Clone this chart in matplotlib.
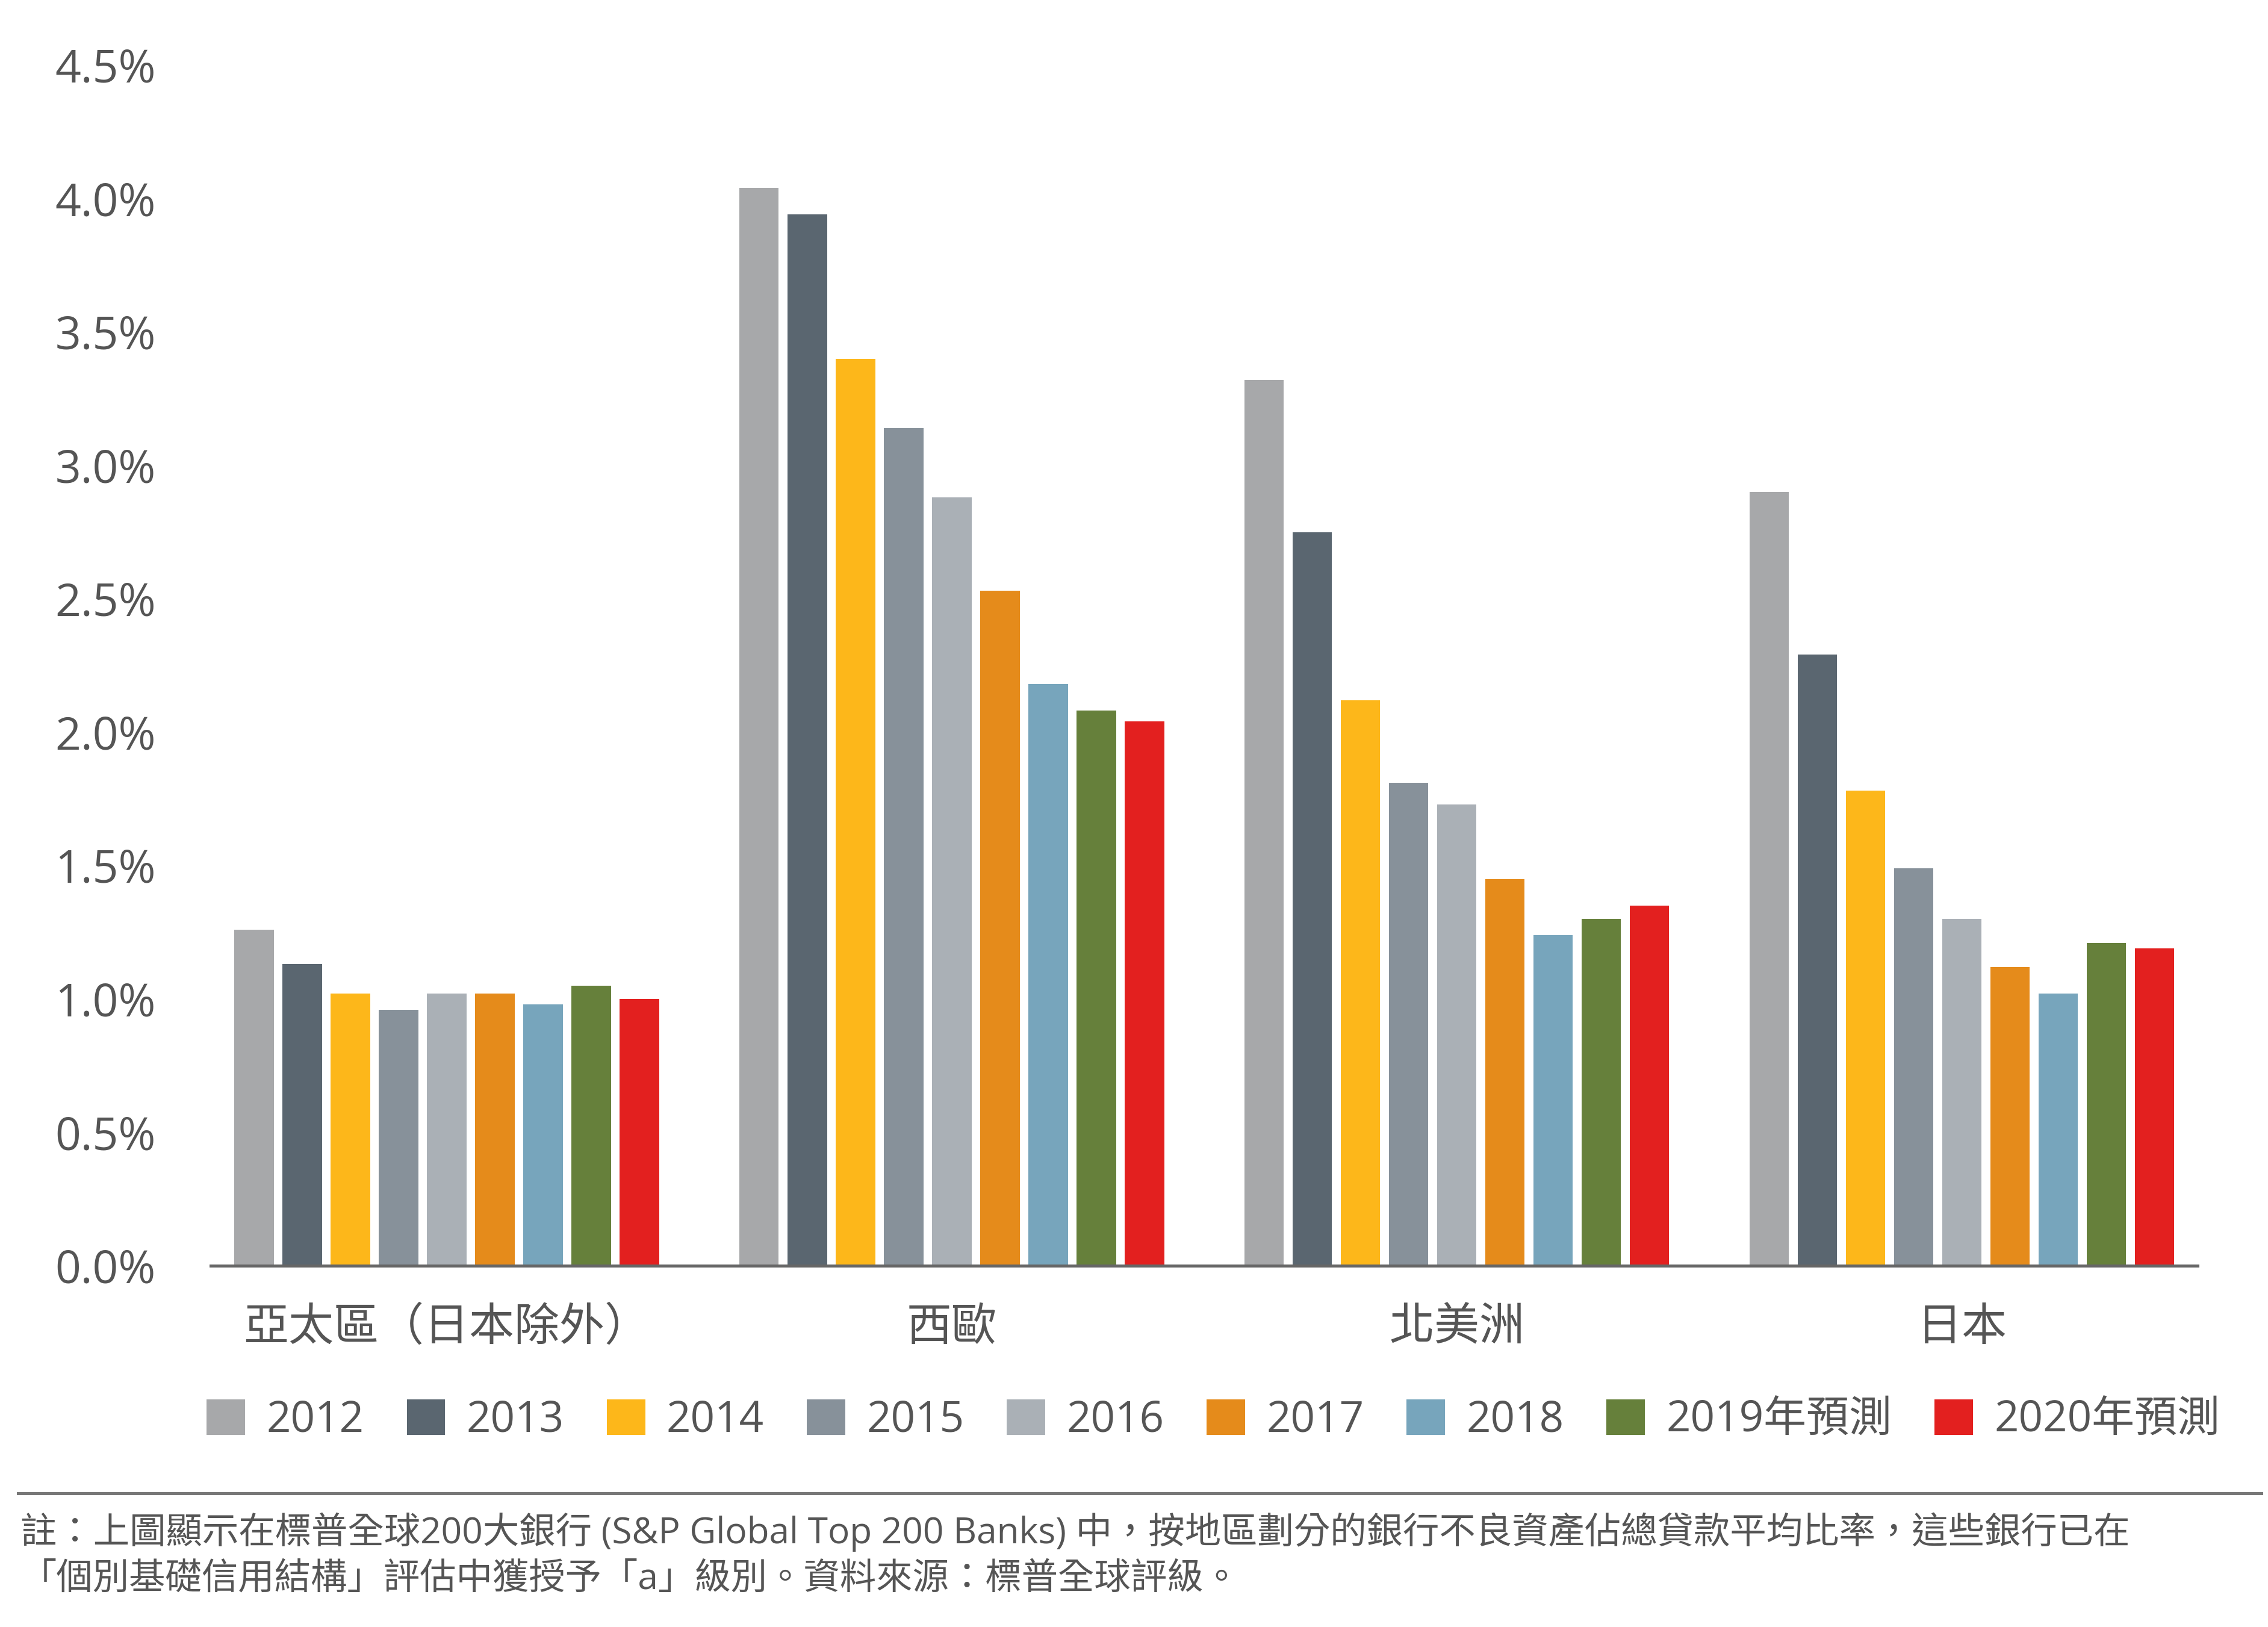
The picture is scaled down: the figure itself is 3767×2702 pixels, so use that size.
import matplotlib
matplotlib.use("Agg")
import matplotlib.pyplot as plt
from matplotlib.patches import Patch
from matplotlib.lines import Line2D
import numpy as np

plt.rcParams['font.family'] = ['Open Sans', 'Noto Sans CJK TC', 'DejaVu Sans']

regions = ["亞太區（日本除外）", "西歐", "北美洲", "日本"]
years = ["2012", "2013", "2014", "2015", "2016", "2017", "2018", "2019年預測", "2020年預測"]
colors = ["#a7a8aa", "#5a6670", "#fdb71a", "#87919a", "#aab0b6", "#e58b1b", "#77a5bc", "#66803b", "#e3201f"]
values = {
    "亞太區（日本除外）": [1.26, 1.13, 1.02, 0.96, 1.02, 1.02, 0.98, 1.05, 1.00],
    "西歐": [4.04, 3.94, 3.40, 3.14, 2.88, 2.53, 2.18, 2.08, 2.04],
    "北美洲": [3.32, 2.75, 2.12, 1.81, 1.73, 1.45, 1.24, 1.30, 1.35],
    "日本": [2.90, 2.29, 1.78, 1.49, 1.30, 1.12, 1.02, 1.21, 1.19],
}
yticks = [0, 0.5, 1.0, 1.5, 2.0, 2.5, 3.0, 3.5, 4.0, 4.5]
note = ("註：上圖顯示在標普全球200大銀行 (S&P Global Top 200 Banks) 中，按地區劃分的銀行不良資產佔總貸款平均比率，這些銀行已在\n"
        "「個別基礎信用結構」評估中獲授予「a」級別。資料來源：標普全球評級。")

txt = "#555555"
fig = plt.figure(figsize=(3767/300, 2702/300), dpi=300)
ax = fig.add_axes([0.093, 0.222, 0.876, 0.738])
pitch = 0.0954
width = 0.078
x = np.arange(len(regions))
for i, (yr, c) in enumerate(zip(years, colors)):
    vals = [values[r][i] for r in regions]
    ax.bar(x + (i - 4) * pitch, vals, width=width, color=c, label=yr)
ax.set_xlim(-0.467, 3.467)
ax.set_ylim(0, 4.5)
ax.set_yticks(yticks)
ax.set_yticklabels([f"{v:.1f}%" for v in yticks])
ax.set_xticks(x)
ax.set_xticklabels(regions)
for s in ["left", "right", "top"]:
    ax.spines[s].set_visible(False)
ax.spines["bottom"].set_color("#666666")
ax.spines["bottom"].set_linewidth(1.2)
ax.tick_params(axis='both', length=0, labelsize=18, colors=txt)
ax.tick_params(axis='y', pad=22)
ax.tick_params(axis='x', pad=16)

handles = [Patch(facecolor=c, edgecolor='none') for c in colors]
fig.legend(handles, years, loc="center", bbox_to_anchor=(0.535, 0.127), ncol=9,
           frameon=False, fontsize=17, handlelength=0.9, handleheight=0.9,
           handletextpad=0.5, columnspacing=1.0, labelcolor=txt)
fig.add_artist(Line2D([0.008, 0.997], [1 - 1027/1119] * 2, color="#777777", lw=1.2))
fig.text(0.009, 1 - 1040/1119, note, fontsize=14.5, color=txt, va="top", linespacing=1.35)
fig.savefig("out.png", dpi=300)
